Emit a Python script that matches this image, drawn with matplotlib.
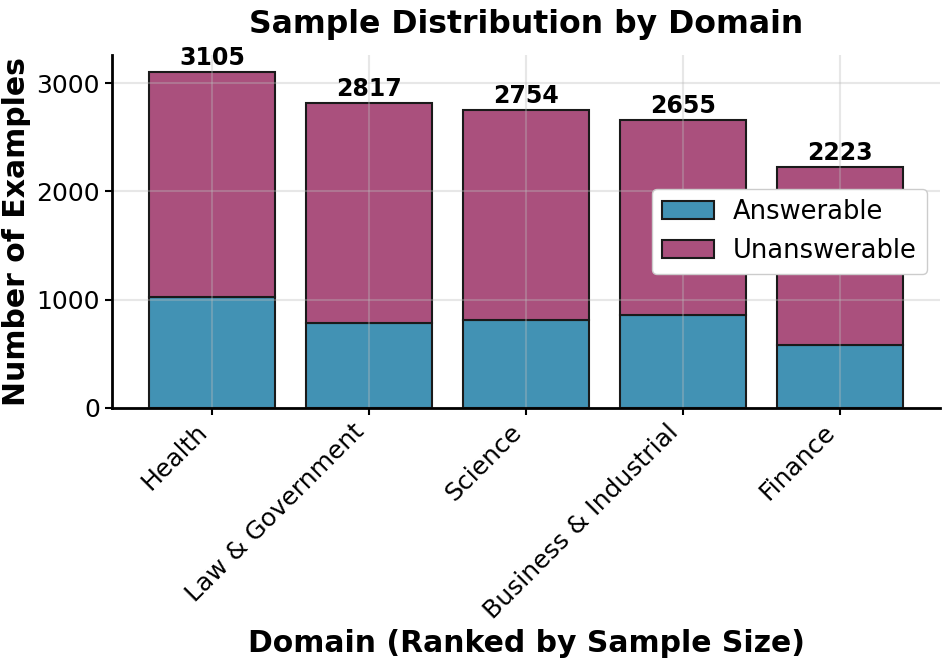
import matplotlib
matplotlib.use('Agg')
import matplotlib.pyplot as plt
import numpy as np

domains = ['Health', 'Law & Government', 'Science', 'Business & Industrial', 'Finance']
totals = [3105, 2817, 2754, 2655, 2223]
answerable = [1025, 787, 808, 858, 583]
unanswerable = [t - a for t, a in zip(totals, answerable)]

blue = '#4292b4'
pink = '#aa507d'

fig = plt.figure(figsize=(9.47, 6.63), dpi=100)
ax = fig.add_axes([0.118, 0.385, 0.875, 0.532])

x = np.arange(len(domains))
ax.bar(x, answerable, width=0.8, color=blue, edgecolor='#1a1a1a', linewidth=1.5, label='Answerable')
ax.bar(x, unanswerable, width=0.8, bottom=answerable, color=pink, edgecolor='#1a1a1a',
       linewidth=1.5, label='Unanswerable')

for xi, t in zip(x, totals):
    ax.text(xi, t + 20, str(t), ha='center', va='bottom', fontsize=17, fontweight='bold')

ax.set_ylim(0, 3260)
ax.set_xticks(x)
ax.set_xticklabels(domains, rotation=45, ha='right', fontsize=18)
ax.tick_params(axis='y', labelsize=18, width=1.5, length=5)
ax.tick_params(axis='x', width=1.5, length=5)
ax.set_yticks([0, 1000, 2000, 3000])

ax.grid(True, color='#bbbbbb', alpha=0.35, linewidth=1.5)
for s in ['top', 'right']:
    ax.spines[s].set_visible(False)
for s in ['left', 'bottom']:
    ax.spines[s].set_linewidth(2)

ax.set_title('Sample Distribution by Domain', fontsize=22.7, fontweight='bold', pad=16)
ax.set_xlabel('Domain (Ranked by Sample Size)', fontsize=21.5, fontweight='bold')
ax.set_ylabel('Number of Examples', fontsize=21.5, fontweight='bold')

ax.legend(loc='upper right', bbox_to_anchor=(0.984, 0.62), borderaxespad=0, fontsize=18.5,
          handlelength=2.0, handletextpad=0.75, framealpha=1, fancybox=True)

fig.savefig('out.png', dpi=100)
